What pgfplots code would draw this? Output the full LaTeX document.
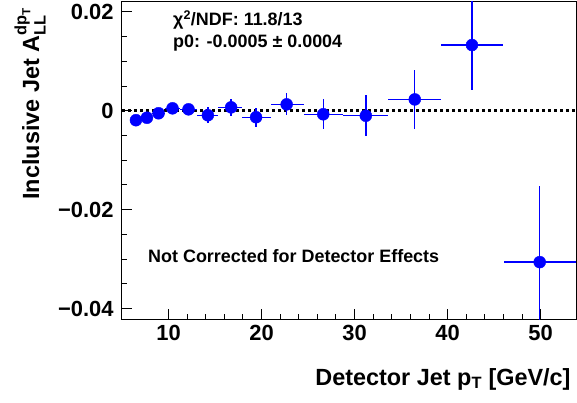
\documentclass[border=0pt]{standalone}
\usepackage{pgfplots}
\pgfplotsset{compat=1.18}
\usepackage{amsmath}
\usepackage{fontspec}
\setmainfont{Liberation Sans}
\definecolor{rootblue}{RGB}{0,0,255}
\begin{document}
\begin{tikzpicture}
\begin{axis}[
 name=ax,
 scale only axis,
 width=454bp, height=317bp,
 xmin=5, xmax=53.8, ymin=-0.0421, ymax=0.0220,
 xtick={10,20,30,40,50},
 ytick={-0.04,-0.02,0,0.02},
 yticklabels={−0.04,−0.02,0,0.02},
 minor x tick num=4, minor y tick num=3,
 tick align=inside, tick pos=left,
 major tick length=10bp, minor tick length=5bp,
 /pgf/number format/assume math mode=true,
 tick label style={font=\fontsize{22}{26}\selectfont\bfseries},
 xticklabel style={yshift=-3bp},
 yticklabel style={xshift=-5bp},
 axis line style={line width=1bp},
 tick style={line width=1bp, black},
 xlabel={Detector Jet p$_{\text{T}}$ [GeV/c]},
 ylabel={Inclusive Jet A$_{\text{LL}}^{\text{dp}_{\text{T}}}$},
 label style={font=\fontsize{23.5}{28}\selectfont\bfseries},
 xlabel style={at={(axis description cs:0.9956,-0.2082)}, anchor=base east},
 ylabel style={at={(axis description cs:-0.1828,0.9937)}, anchor=base east},
]
\addplot[black, line width=2.7bp, dash pattern=on 3bp off 3bp, forget plot] coordinates {(5,0) (53.8,0)};
\addplot[rootblue, only marks, mark=*, mark size=6bp,
  error bars/.cd, x dir=both, x explicit, y dir=both, y explicit,
  error bar style={line width=1.4bp, rootblue}, error mark=none]
 table[x=x, y=y, x error minus=xm, x error plus=xp, y error=ey] {
x y xm xp ey
6.50 -0.0019 0.53 0.49 0.0008
7.68 -0.0014 0.69 0.50 0.0007
8.93 -0.0005 0.75 0.64 0.0007
10.43 0.0005 0.86 0.77 0.0008
12.15 0.0003 0.95 0.95 0.0009
14.23 -0.0009 1.13 1.10 0.0016
16.73 0.0007 1.40 1.21 0.0017
19.41 -0.0013 1.47 1.58 0.0019
22.70 0.0013 1.71 1.85 0.0022
26.63 -0.0007 2.08 2.10 0.0030
31.21 -0.0010 2.48 2.39 0.0041
36.47 0.0023 2.87 2.83 0.0059
42.62 0.0133 3.32 3.38 0.0091
49.90 -0.0306 3.80 3.90 0.0153
};
\node[anchor=west, inner sep=0pt, font=\fontsize{18}{21}\selectfont\bfseries] at (rel axis cs:0.1123,0.943) {χ\textsuperscript{2}/NDF: 11.8/13};
\node[anchor=west, inner sep=0pt, font=\fontsize{18}{21}\selectfont\bfseries] at (rel axis cs:0.1123,0.8707) {p0: -0.0005 ± 0.0004};
\node[anchor=west, inner sep=0pt, font=\fontsize{18}{21}\selectfont\bfseries] at (rel axis cs:0.0573,0.1987) {Not Corrected for Detector Effects};
\end{axis}
\pgfresetboundingbox
\path ([xshift=-122bp,yshift=-84bp]ax.south west) rectangle ([xshift=1bp,yshift=2bp]ax.north east);
\end{tikzpicture}
\end{document}
